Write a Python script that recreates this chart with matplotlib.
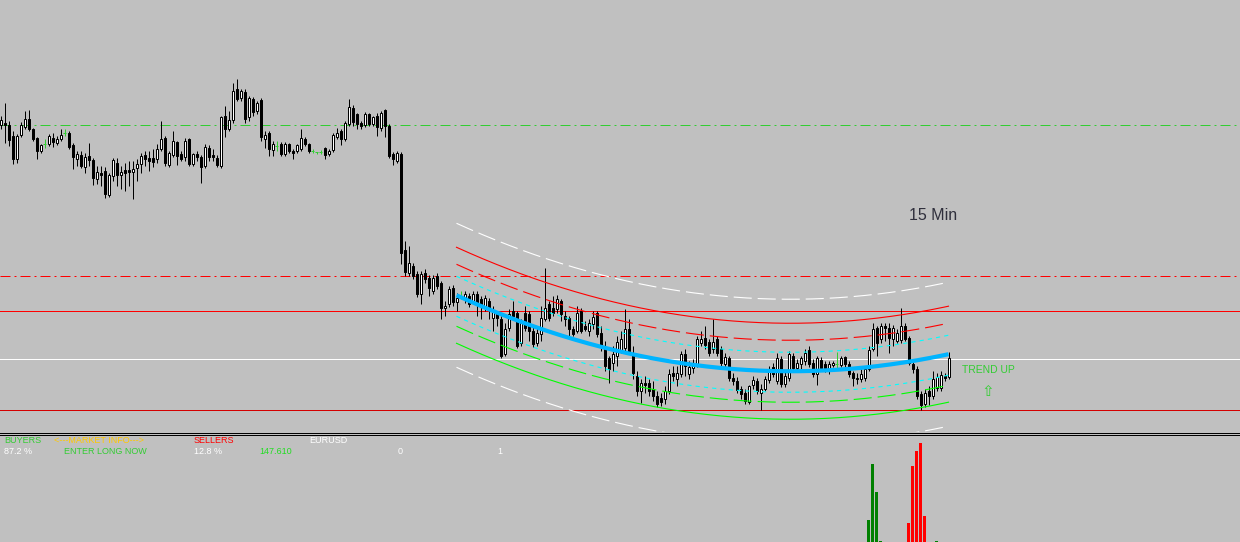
"""Render out.png: 15 min price chart with a polynomial regression channel
and a buyers/sellers histogram sub-window underneath.

Run with: python3 plot.py
"""

import numpy as np
import matplotlib

matplotlib.use("Agg")
import matplotlib.pyplot as plt  # noqa: E402
from matplotlib.lines import Line2D  # noqa: E402

# --- candles (15 min bars, oldest first) ---------------------------------
OPEN = [
    149.95, 149.97, 149.95, 149.84, 149.61, 149.85, 149.93, 150.01, 149.90, 149.81,
    149.69, 149.76, 149.76, 149.82, 149.77, 149.81, 149.87, 149.87, 149.75, 149.61,
    149.65, 149.53, 149.64, 149.60, 149.41, 149.47, 149.49, 149.25, 149.44, 149.57,
    149.45, 149.49, 149.50, 149.48, 149.52, 149.56, 149.65, 149.61, 149.61, 149.61,
    149.71, 149.82, 149.55, 149.65, 149.77, 149.66, 149.63, 149.80, 149.56, 149.66,
    149.62, 149.54, 149.72, 149.65, 149.62, 149.54, 150.04, 149.91, 150.00, 150.30,
    150.22, 150.27, 150.03, 150.21, 150.09, 150.20, 149.81, 149.87, 149.70, 149.74,
    149.76, 149.66, 149.75, 149.69, 149.69, 149.71, 149.81, 149.75, 149.69, 149.68,
    149.68, 149.71, 149.66, 149.70, 149.83, 149.89, 149.81, 149.96, 150.12, 150.05,
    149.96, 149.95, 150.05, 149.96, 150.04, 149.92, 150.09, 149.94, 149.66, 149.59,
    149.66, 148.70, 148.47, 148.54, 148.46, 148.26, 148.47, 148.42, 148.29, 148.43,
    148.36, 148.12, 148.16, 148.32, 148.18, 148.24, 148.21, 148.24, 148.19, 148.26,
    148.21, 148.14, 148.19, 148.02, 148.06, 148.01, 147.66, 147.92, 148.09, 148.07,
    147.77, 148.07, 148.06, 147.89, 147.77, 147.86, 148.01, 148.16, 148.11, 148.11,
    148.19, 148.04, 148.02, 147.91, 147.89, 148.09, 147.94, 147.89, 147.96, 148.07,
    147.86, 147.72, 147.61, 147.57, 147.64, 147.69, 147.72, 147.91, 147.67, 147.44,
    147.29, 147.37, 147.36, 147.31, 147.24, 147.22, 147.21, 147.29, 147.47, 147.41,
    147.46, 147.66, 147.46, 147.52, 147.56, 147.77, 147.82, 147.77, 147.71, 147.80,
    147.71, 147.56, 147.62, 147.42, 147.39, 147.30, 147.27, 147.18, 147.35, 147.39,
    147.27, 147.31, 147.40, 147.52, 147.39, 147.61, 147.36, 147.42, 147.64, 147.52,
    147.56, 147.59, 147.70, 147.57, 147.46, 147.60, 147.56, 147.51, 147.55, 147.56,
    147.55, 147.62, 147.55, 147.46, 147.41, 147.41, 147.42, 147.51, 147.71, 147.92,
    147.81, 147.93, 147.92, 147.81, 147.79, 147.80, 147.94, 147.82, 147.55, 147.51,
    147.26, 147.16, 147.29, 147.24, 147.32, 147.32, 147.43, 147.43,
]
HIGH = [
    150.04, 150.17, 149.99, 149.89, 149.86, 149.98, 150.09, 150.10, 149.92, 149.83,
    149.76, 149.81, 149.86, 149.87, 149.84, 149.91, 149.91, 149.89, 149.77, 149.69,
    149.69, 149.67, 149.77, 149.62, 149.54, 149.54, 149.53, 149.47, 149.62, 149.62,
    149.54, 149.57, 149.59, 149.59, 149.61, 149.67, 149.69, 149.69, 149.71, 149.76,
    149.99, 149.84, 149.69, 149.89, 149.79, 149.69, 149.82, 149.82, 149.67, 149.69,
    149.65, 149.76, 149.75, 149.71, 149.65, 150.04, 150.14, 150.09, 150.37, 150.41,
    150.31, 150.31, 150.24, 150.23, 150.19, 150.22, 149.89, 149.89, 149.79, 149.79,
    149.78, 149.78, 149.77, 149.71, 149.76, 149.91, 149.83, 149.77, 149.71, 149.68,
    149.70, 149.73, 149.71, 149.87, 149.92, 149.91, 149.99, 150.21, 150.15, 150.07,
    149.99, 150.08, 150.07, 150.04, 150.07, 150.09, 150.11, 149.96, 149.68, 149.69,
    149.68, 148.79, 148.74, 148.57, 148.49, 148.49, 148.51, 148.45, 148.45, 148.47,
    148.39, 148.19, 148.34, 148.35, 148.27, 148.29, 148.29, 148.27, 148.29, 148.29,
    148.24, 148.25, 148.22, 148.14, 148.09, 148.04, 147.97, 148.11, 148.19, 148.09,
    148.01, 148.14, 148.09, 147.94, 147.94, 148.14, 148.52, 148.19, 148.24, 148.25,
    148.21, 148.09, 148.04, 147.94, 148.14, 148.12, 147.99, 148.01, 148.09, 148.09,
    147.94, 147.79, 147.64, 147.74, 147.84, 147.89, 148.11, 148.01, 147.74, 147.49,
    147.41, 147.44, 147.41, 147.39, 147.29, 147.27, 147.34, 147.51, 147.54, 147.54,
    147.69, 147.71, 147.59, 147.61, 147.84, 147.89, 147.94, 147.81, 148.01, 147.84,
    147.74, 147.67, 147.64, 147.47, 147.43, 147.34, 147.31, 147.35, 147.44, 147.42,
    147.36, 147.44, 147.54, 147.57, 147.67, 147.64, 147.49, 147.69, 147.67, 147.61,
    147.64, 147.71, 147.74, 147.61, 147.64, 147.63, 147.59, 147.59, 147.59, 147.68,
    147.64, 147.64, 147.59, 147.49, 147.47, 147.51, 147.54, 147.74, 147.97, 147.94,
    147.97, 147.97, 147.97, 147.95, 147.91, 148.12, 147.97, 147.84, 147.59, 147.54,
    147.29, 147.31, 147.34, 147.49, 147.47, 147.49, 147.47, 147.68,
]
LOW = [
    149.91, 149.77, 149.74, 149.56, 149.57, 149.83, 149.91, 149.89, 149.79, 149.61,
    149.67, 149.72, 149.74, 149.73, 149.75, 149.79, 149.84, 149.71, 149.51, 149.54,
    149.52, 149.47, 149.54, 149.35, 149.36, 149.34, 149.22, 149.23, 149.39, 149.34,
    149.31, 149.29, 149.34, 149.21, 149.39, 149.47, 149.54, 149.49, 149.53, 149.57,
    149.69, 149.54, 149.53, 149.63, 149.55, 149.59, 149.59, 149.54, 149.54, 149.59,
    149.37, 149.52, 149.59, 149.59, 149.53, 149.52, 149.83, 149.89, 149.97, 150.19,
    150.19, 149.97, 149.99, 150.04, 150.06, 149.79, 149.72, 149.64, 149.64, 149.69,
    149.64, 149.64, 149.67, 149.61, 149.67, 149.69, 149.74, 149.67, 149.67, 149.66,
    149.66, 149.61, 149.64, 149.68, 149.81, 149.75, 149.79, 149.94, 149.94, 149.91,
    149.91, 149.93, 149.94, 149.94, 149.84, 149.89, 149.83, 149.62, 149.55, 149.57,
    148.56, 148.44, 148.44, 148.41, 148.23, 148.16, 148.37, 148.24, 148.26, 148.31,
    148.01, 148.04, 148.13, 148.14, 148.09, 148.21, 148.17, 148.13, 148.16, 148.04,
    148.01, 148.09, 148.01, 147.89, 147.94, 147.62, 147.64, 147.89, 148.01, 147.72,
    147.74, 147.89, 147.79, 147.73, 147.74, 147.79, 147.99, 147.99, 148.04, 148.07,
    147.99, 147.94, 147.84, 147.84, 147.87, 147.87, 147.89, 147.84, 147.91, 147.83,
    147.69, 147.49, 147.37, 147.49, 147.54, 147.67, 147.69, 147.67, 147.41, 147.24,
    147.17, 147.27, 147.24, 147.19, 147.13, 147.14, 147.16, 147.26, 147.39, 147.34,
    147.43, 147.44, 147.41, 147.47, 147.53, 147.74, 147.71, 147.64, 147.67, 147.64,
    147.54, 147.52, 147.39, 147.35, 147.27, 147.21, 147.16, 147.16, 147.31, 147.26,
    147.10, 147.29, 147.37, 147.43, 147.36, 147.33, 147.33, 147.39, 147.49, 147.49,
    147.51, 147.55, 147.53, 147.43, 147.35, 147.49, 147.48, 147.46, 147.53, 147.51,
    147.53, 147.53, 147.43, 147.34, 147.36, 147.38, 147.39, 147.49, 147.69, 147.64,
    147.77, 147.79, 147.67, 147.74, 147.77, 147.77, 147.79, 147.55, 147.47, 147.21,
    147.10, 147.13, 147.15, 147.21, 147.29, 147.29, 147.39, 147.41,
]
CLOSE = [
    149.99, 149.95, 149.80, 149.61, 149.84, 149.95, 150.01, 149.91, 149.81, 149.69,
    149.74, 149.76, 149.84, 149.78, 149.81, 149.85, 149.87, 149.73, 149.63, 149.66,
    149.54, 149.62, 149.60, 149.42, 149.48, 149.45, 149.26, 149.45, 149.59, 149.45,
    149.48, 149.47, 149.48, 149.51, 149.56, 149.64, 149.61, 149.59, 149.58, 149.71,
    149.81, 149.57, 149.67, 149.79, 149.64, 149.61, 149.79, 149.56, 149.65, 149.63,
    149.53, 149.73, 149.63, 149.63, 149.55, 150.02, 149.91, 150.00, 150.28, 150.21,
    150.28, 150.01, 150.21, 150.08, 150.17, 149.83, 149.85, 149.71, 149.76, 149.74,
    149.66, 149.76, 149.69, 149.67, 149.74, 149.82, 149.76, 149.69, 149.69, 149.68,
    149.68, 149.65, 149.69, 149.85, 149.86, 149.81, 149.97, 150.13, 149.98, 149.96,
    149.94, 150.06, 149.96, 150.02, 149.93, 150.07, 149.94, 149.64, 149.61, 149.67,
    148.67, 148.48, 148.56, 148.44, 148.26, 148.46, 148.41, 148.32, 148.42, 148.34,
    148.12, 148.14, 148.31, 148.18, 148.22, 148.24, 148.26, 148.16, 148.26, 148.17,
    148.16, 148.22, 148.12, 148.09, 148.02, 147.64, 147.91, 148.06, 148.04, 147.74,
    147.97, 147.92, 147.89, 147.76, 147.87, 148.02, 148.12, 148.02, 148.07, 148.21,
    148.06, 148.01, 147.91, 147.86, 148.07, 147.89, 147.91, 147.96, 148.02, 147.86,
    147.74, 147.54, 147.51, 147.66, 147.77, 147.81, 147.91, 147.69, 147.47, 147.29,
    147.36, 147.35, 147.29, 147.24, 147.16, 147.18, 147.29, 147.46, 147.44, 147.47,
    147.66, 147.54, 147.52, 147.57, 147.80, 147.81, 147.75, 147.67, 147.77, 147.67,
    147.57, 147.62, 147.42, 147.39, 147.30, 147.26, 147.19, 147.33, 147.40, 147.29,
    147.31, 147.40, 147.49, 147.46, 147.62, 147.36, 147.44, 147.66, 147.52, 147.57,
    147.61, 147.67, 147.56, 147.46, 147.61, 147.52, 147.52, 147.56, 147.57, 147.56,
    147.62, 147.56, 147.46, 147.42, 147.42, 147.46, 147.51, 147.70, 147.91, 147.77,
    147.93, 147.92, 147.82, 147.92, 147.87, 147.94, 147.81, 147.57, 147.51, 147.24,
    147.15, 147.27, 147.24, 147.41, 147.43, 147.45, 147.42, 147.61,
]

# --- horizontal levels ----------------------------------------------------
LEVEL_PRICES = [149.95, 148.44, 148.09, 147.61, 147.10]
LEVEL_COLORS = ["#32cd32", "#ff0000", "#ff0000", "#ffffff", "#d40000"]
LEVEL_STYLES = ["dashdot", "dashdot", "solid", "solid", "solid"]

# --- regression channel (quadratic fit over the last bars) ----------------
CH_START = 114
CH_OFFSETS = [0.72, 0.48, 0.31, 0.19, -0.21, -0.31, -0.48, -0.72]
CH_COLORS = ["#ffffff", "#ff0000", "#ff0000", "#00ffff",
             "#00ffff", "#00ff00", "#00ff00", "#ffffff"]
CH_STYLES = ["long", "solid", "long", "short", "short", "long", "solid", "long"]

# --- buyers / sellers histogram -------------------------------------------
HIST_BAR = [217, 218, 219, 220, 227, 228, 229, 230, 231, 234]
HIST_VAL = [22, 78, 50, 1, 19, 76, 91, 99, 26, 1]
HIST_SIDE = ["buy", "buy", "buy", "buy", "sell", "sell", "sell", "sell", "sell", "buy"]

BG = "#c0c0c0"
W, H = 1240, 542
PX = 0.72  # one pixel in points at dpi 100
DASHES = {
    "solid": "solid",
    "long": (0, (13, 4.3)),
    "short": (0, (3, 3)),
    "dashdot": (0, (7.2, 2.9, 1.4, 2.9)),
}


def fx(px):
    return px / W


def fy(py):
    return 1 - py / H


def main():
    plt.rcParams["font.family"] = ["Liberation Sans", "DejaVu Sans"]
    plt.rcParams["lines.scale_dashes"] = False

    fig = plt.figure(figsize=(W / 100, H / 100), dpi=100, facecolor=BG)
    ax = fig.add_axes([0, fy(431.5), 1, 431.5 / H])
    sub = fig.add_axes([0, 0, 1, (H - 435) / H])
    for a in (ax, sub):
        a.set_axis_off()
        a.set_xlim(-0.125, W / 4 - 0.125)
    # 1 px = 0.01 price, half-pixel shift so levels land on pixel centres
    ax.set_ylim(151.195 - 4.315, 151.195)
    sub.set_ylim(0, 107)

    o, hi, lo, c = (np.array(v) for v in (OPEN, HIGH, LOW, CLOSE))
    idx = np.arange(len(c))
    doji = o == c
    up = c > o
    down = c < o

    for price, col, st in zip(LEVEL_PRICES, LEVEL_COLORS, LEVEL_STYLES):
        ax.axhline(price, color=col, lw=PX, ls=DASHES[st], zorder=1)

    # candles
    ax.vlines(idx[~doji], lo[~doji], hi[~doji], color="black", lw=PX, zorder=3)
    ax.bar(idx[up], c[up] - o[up], bottom=o[up], width=0.5, color="white",
           edgecolor="black", lw=PX, zorder=4)
    ax.bar(idx[down], o[down] - c[down], bottom=c[down], width=0.5, color="black",
           edgecolor="black", lw=PX, zorder=4)
    ax.vlines(idx[doji], lo[doji], hi[doji], color="#32cd32", lw=PX, zorder=4)
    ax.hlines(o[doji], idx[doji] - 0.375, idx[doji] + 0.375, color="#32cd32",
              lw=PX, zorder=4)

    # regression channel
    ci = idx[CH_START:]
    coef = np.polyfit(ci, c[CH_START:], 2)
    xs = np.linspace(ci[0], ci[-1], 300)
    mid = np.polyval(coef, xs)
    for off, col, st in zip(CH_OFFSETS, CH_COLORS, CH_STYLES):
        ax.plot(xs, mid + off, color=col, lw=0.8, ls=DASHES[st], zorder=5)
    ax.plot(xs, mid, color="#00b4ff", lw=3, solid_capstyle="butt", zorder=6)

    # histogram sub-window
    colors = ["#008000" if s == "buy" else "#ff0000" for s in HIST_SIDE]
    sub.bar(HIST_BAR, HIST_VAL, width=0.7, color=colors)

    for yy in (432.5, 434.5):
        fig.add_artist(Line2D([0, 1], [fy(yy)] * 2, transform=fig.transFigure,
                              color="black", lw=PX))

    # labels
    fig.text(fx(909), fy(216), "15 Min", fontsize=11.5, color="#2f2f3c", va="center")
    fig.text(fx(962), fy(370), "TREND UP", fontsize=7.5, color="#32cd32", va="center")
    fig.text(fx(988), fy(391), "\u21e7", fontsize=11, color="#32cd32",
             va="center", ha="center", family=["DejaVu Sans"])

    row1, row2 = 440.5, 451.5
    info = [
        (4, row1, "BUYERS", "#32cd32"),
        (54, row1, "<---MARKET INFO--->", "#ffc800"),
        (194, row1, "SELLERS", "#ff0000"),
        (309, row1, "EURUSD", "#ffffff"),
        (4, row2, "87.2 %", "#ffffff"),
        (64, row2, "ENTER LONG NOW", "#32cd32"),
        (194, row2, "12.8 %", "#ffffff"),
        (259, row2, "147.610", "#22dd22"),
        (398, row2, "0", "#ffffff"),
        (497, row2, "1", "#ffffff"),
    ]
    for x, y, s, col in info:
        fig.text(fx(x), fy(y), s, fontsize=6.5, color=col, va="center")

    fig.savefig("out.png", dpi=100, facecolor=BG)
    plt.close(fig)


if __name__ == "__main__":
    main()
